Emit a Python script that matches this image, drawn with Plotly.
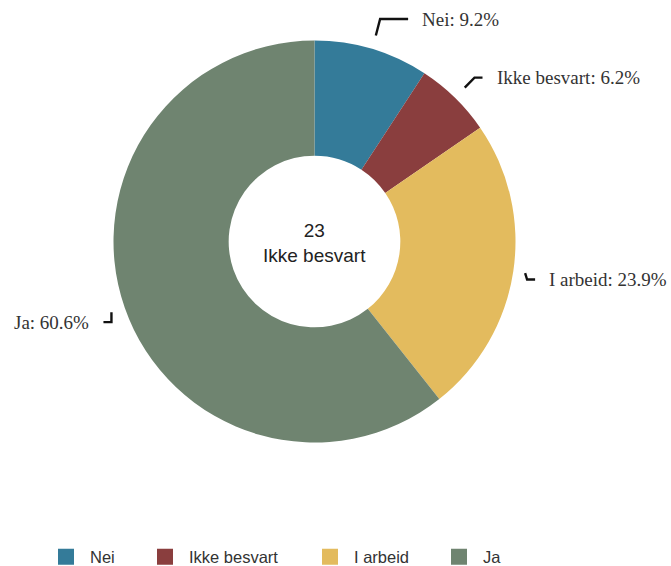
import math
import plotly.graph_objects as go

# ---- data ----
categories = ["Nei", "Ikke besvart", "I arbeid", "Ja"]
percentages = [9.2, 6.2, 23.9, 60.6]
center_value = "23"
center_label = "Ikke besvart"

# ---- style ----
colors = ["#347b99", "#8a3e3e", "#e3bb5e", "#6f8470"]
W, H = 671, 566
MB = 60                       # bottom margin (px) reserved for the legend
PH = H - MB                   # plot-area height (px)
CX, CY, R = 314.5, 241.5, 201.0
HOLE = 0.427
line_r1 = [215, 215, 213, 215]
line_r2 = [230, 229, 215, 215]
line_ext = [28, 8, 8, 8]
label_dy = [-2, 0, 6, 10]
label_gap = 12
legend_px = [42, 141, 306, 435]   # left edge of each legend box (pixels)
legend_py = 557

def px(x):
    return x / W

def py(y):
    return 1 - y / PH

fig = go.Figure()
fig.add_trace(go.Pie(
    labels=categories,
    values=percentages,
    marker=dict(colors=colors, line=dict(width=0)),
    hole=HOLE,
    sort=False,
    direction="clockwise",
    rotation=0,
    textinfo="none",
    hoverinfo="label+percent",
    showlegend=False,
    domain=dict(x=[px(CX - R), px(CX + R)], y=[py(CY + R), py(CY - R)]),
))

# legend entries (square markers), one legend box per entry
legend_layouts = {}
for i, (name, col) in enumerate(zip(categories, colors)):
    lg = "legend" if i == 0 else f"legend{i + 1}"
    fig.add_trace(go.Scatter(
        x=[None], y=[None], mode="markers", name=name,
        marker=dict(symbol="square", size=16, color=col),
        hoverinfo="skip", legend=lg,
    ))
    legend_layouts[lg] = dict(
        orientation="h", x=px(legend_px[i]), xanchor="left",
        yref="container", y=1 - legend_py / H, yanchor="middle",
        font=dict(family="Liberation Sans", size=16.5, color="#333333"),
        itemsizing="trace", itemwidth=38, bgcolor="rgba(0,0,0,0)",
    )

# outside labels with leader lines computed from slice angles
total = sum(percentages)
shapes = []
annotations = []
cum = 0.0
for i, (cat, v) in enumerate(zip(categories, percentages)):
    mid = (cum + v / 2) / total * 2 * math.pi
    cum += v
    ux, uy = math.sin(mid), -math.cos(mid)
    side = 1 if ux >= 0 else -1
    x1, y1 = CX + line_r1[i] * ux, CY + line_r1[i] * uy
    x2, y2 = CX + line_r2[i] * ux, CY + line_r2[i] * uy + label_dy[i]
    x3, y3 = x2 + side * line_ext[i], y2
    shapes.append(dict(
        type="path", xref="paper", yref="paper",
        path=f"M {px(x1)} {py(y1)} L {px(x2)} {py(y2)} L {px(x3)} {py(y3)}",
        line=dict(color="#111111", width=2.4),
    ))
    annotations.append(dict(
        x=px(x3 + side * label_gap), y=py(y3), xref="paper", yref="paper",
        text=f"{cat}: {v:.1f}%", showarrow=False,
        xanchor="left" if side > 0 else "right", yanchor="middle",
        font=dict(family="Liberation Serif", size=19, color="#333333"),
    ))

annotations.append(dict(
    x=px(CX), y=py(CY + 1), xref="paper", yref="paper",
    text=f"{center_value}<br>{center_label}", showarrow=False,
    xanchor="center", yanchor="middle",
    font=dict(family="Liberation Sans", size=19, color="#222222"),
))

fig.update_layout(
    width=W, height=H,
    margin=dict(l=0, r=0, t=0, b=MB),
    paper_bgcolor="white", plot_bgcolor="white",
    xaxis=dict(visible=False), yaxis=dict(visible=False),
    shapes=shapes, annotations=annotations,
    showlegend=True,
    **legend_layouts,
)

fig.write_html(
    "out.html",
    config={"displayModeBar": False},
    post_script="document.body.style.margin='0';document.body.style.overflow='hidden';",
)
